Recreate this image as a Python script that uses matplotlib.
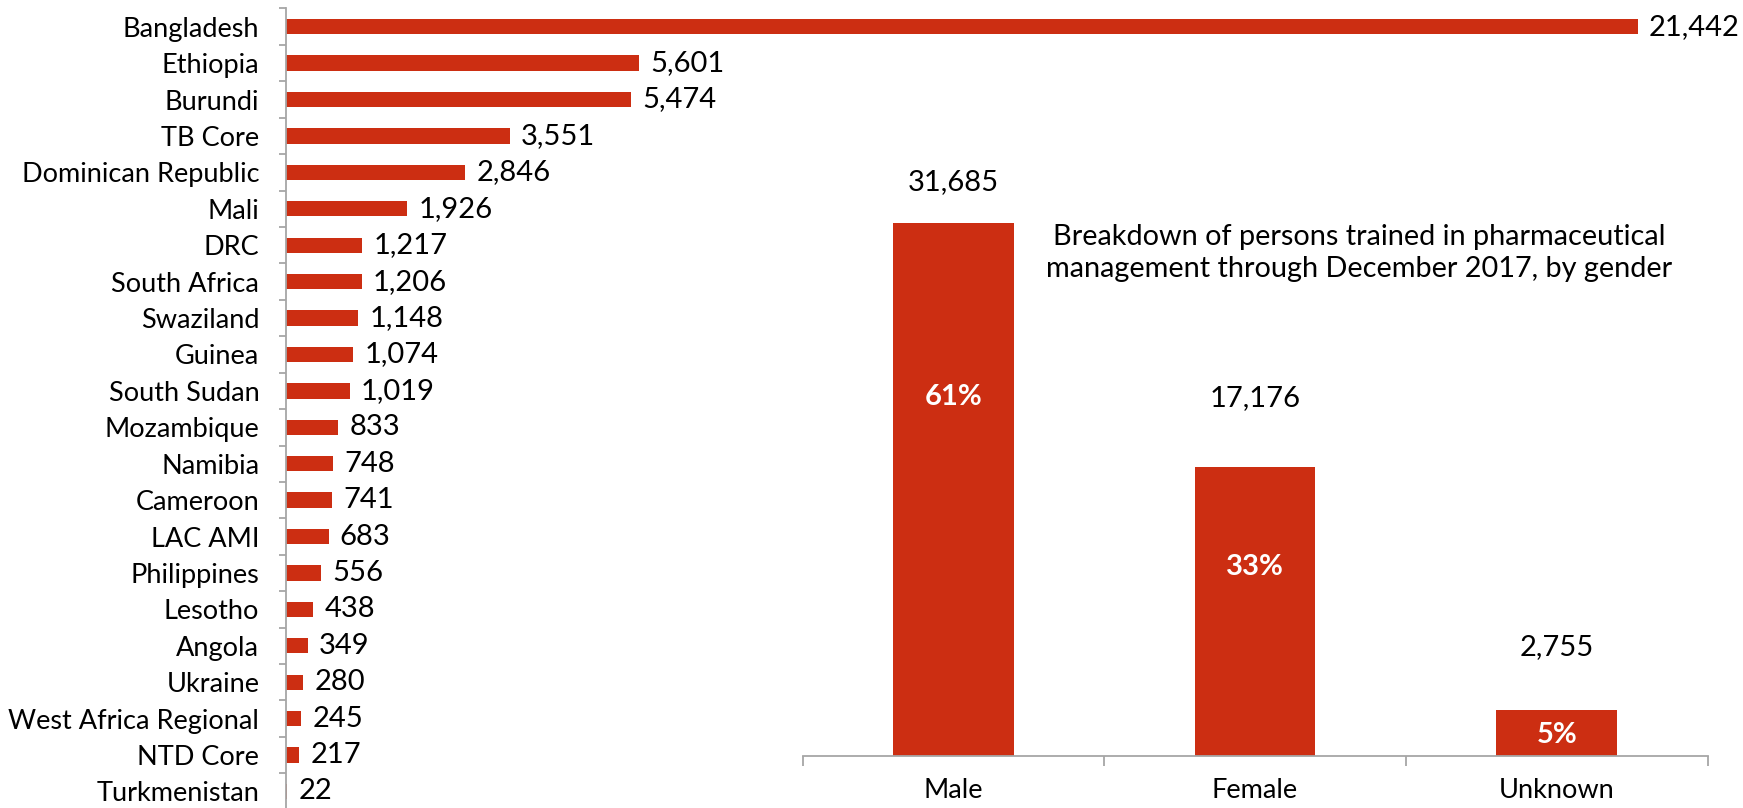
import matplotlib
matplotlib.use("Agg")
import matplotlib.pyplot as plt
from matplotlib.ticker import FixedLocator
import numpy as np

# ---------------- data ----------------
countries = ["Bangladesh", "Ethiopia", "Burundi", "TB Core", "Dominican Republic", "Mali",
             "DRC", "South Africa", "Swaziland", "Guinea", "South Sudan", "Mozambique",
             "Namibia", "Cameroon", "LAC AMI", "Philippines", "Lesotho", "Angola",
             "Ukraine", "West Africa Regional", "NTD Core", "Turkmenistan"]
trained = [21442, 5601, 5474, 3551, 2846, 1926, 1217, 1206, 1148, 1074, 1019, 833,
           748, 741, 683, 556, 438, 349, 280, 245, 217, 22]

genders = ["Male", "Female", "Unknown"]
gender_counts = [31685, 17176, 2755]
gender_pct = ["61%", "33%", "5%"]
inset_title = "Breakdown of persons trained in pharmaceutical\nmanagement through December 2017, by gender"

# ---------------- style ----------------
W, H = 1743, 808
DPI = 100
RED = "#CC2E12"
GRAY = "#A6A6A6"
FONT = ["Lato", "DejaVu Sans"]
FS = 19.5       # category labels
FS_NUM = 21     # value labels
FS_TITLE = 20.8
plt.rcParams["font.family"] = FONT

fig = plt.figure(figsize=(W / DPI, H / DPI), dpi=DPI)

def px_axes(left, top, right, bottom):
    return fig.add_axes([left / W, 1 - bottom / H, (right - left) / W, (bottom - top) / H])

# ---------- left: horizontal bars ----------
ax = px_axes(285.7, 8.5, 1743, 809.7)
y = np.arange(len(countries))
ax.barh(y, trained, height=0.42, color=RED, zorder=2)
ax.set_ylim(len(countries) - 0.5, -0.5)
ax.set_xlim(0, 1457.3 / 0.06305)
for sp in ["top", "right", "bottom"]:
    ax.spines[sp].set_visible(False)
ax.spines["left"].set_color(GRAY)
ax.spines["left"].set_linewidth(1.3)
ax.set_xticks([])
ax.set_yticks(y)
ax.set_yticklabels(countries, fontsize=FS)
ax.tick_params(axis="y", which="major", length=0, pad=19)
ax.yaxis.set_minor_locator(FixedLocator(np.arange(-0.5, len(countries), 1.0)))
ax.tick_params(axis="y", which="minor", length=5, width=1.3, color=GRAY, direction="out")
for yi, v in zip(y, trained):
    ax.annotate(f"{v:,}", xy=(v, yi), xytext=(8, 0), textcoords="offset points",
                ha="left", va="center", fontsize=FS_NUM, clip_on=False)

# ---------- right: gender inset ----------
ax2 = px_axes(802.6, 756 - 605.2, 1707.5, 756)
x = np.arange(len(genders))
ax2.bar(x, gender_counts, width=0.40, color=RED, zorder=2)
ax2.set_xlim(-0.5, len(genders) - 0.5)
ax2.set_ylim(0, 36000)
ax2.patch.set_alpha(0)
for sp in ["top", "right", "left"]:
    ax2.spines[sp].set_visible(False)
ax2.spines["bottom"].set_color(GRAY)
ax2.spines["bottom"].set_linewidth(1.3)
ax2.set_yticks([])
ax2.set_xticks(x)
ax2.set_xticklabels(genders, fontsize=FS)
ax2.tick_params(axis="x", which="major", length=0, pad=16)
ax2.xaxis.set_minor_locator(FixedLocator(np.arange(-0.5, len(genders), 1.0)))
ax2.tick_params(axis="x", which="minor", length=7, width=1.3, color=GRAY, direction="out")

value_offsets_pt = [29.5, 50, 45]
pct_frac = [0.674, 0.655, 0.458]
for xi, v, off, pct, fr in zip(x, gender_counts, value_offsets_pt, gender_pct, pct_frac):
    ax2.annotate(f"{v:,}", xy=(xi, v), xytext=(0, off), textcoords="offset points",
                 ha="center", va="center", fontsize=FS_NUM)
    ax2.text(xi, v * fr, pct, ha="center", va="center", fontsize=FS_NUM,
             color="white", fontweight="bold")

fig.text(1359 / W, 1 - 253 / H, inset_title, ha="center", va="center",
         fontsize=FS_TITLE, linespacing=1.3)

fig.savefig("out.png", dpi=DPI)
